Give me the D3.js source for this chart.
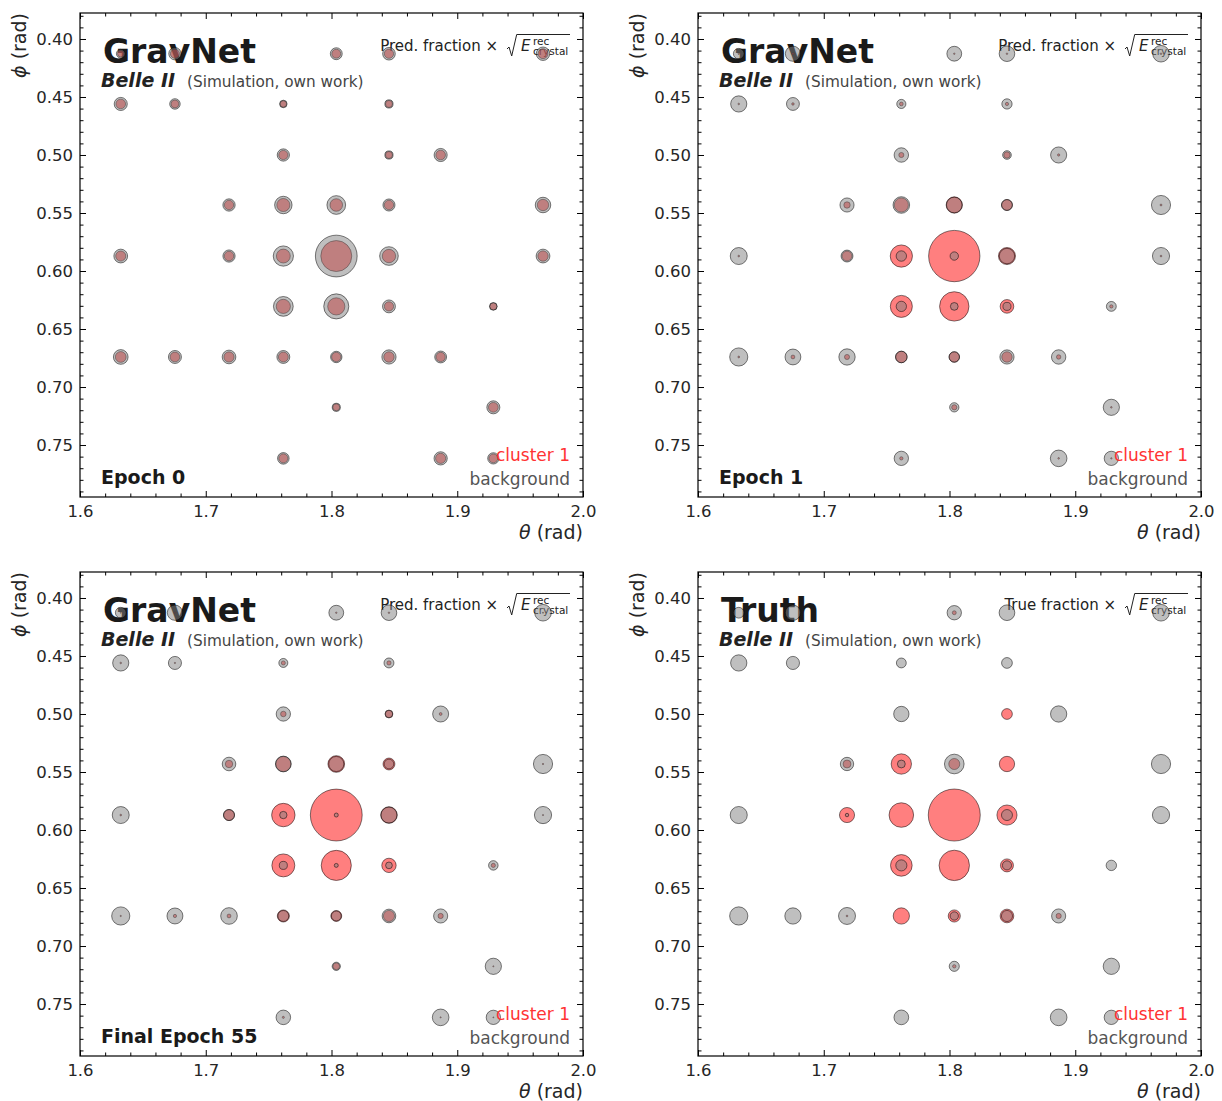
<!DOCTYPE html>
<html>
<head>
<meta charset="utf-8">
<script src="https://cdn.jsdelivr.net/npm/d3@7"></script>
<style>
  body { margin: 0; background: #fff; }
  svg { display: block; font-family: "DejaVu Sans", sans-serif; }
</style>
</head>
<body>
<svg id="fig" width="1222" height="1101"></svg>
<script>
// ECL crystal centres (polar angle theta, azimuth phi, in rad)
const crystalTheta = [
  1.6324, 1.6755, 1.8038, 1.8457, 1.9682,
  1.6324, 1.6755, 1.7617, 1.8457,
  1.7617, 1.8457, 1.8868,
  1.7185, 1.7617, 1.8038, 1.8457, 1.9682,
  1.6324, 1.7185, 1.7617, 1.8038, 1.8457, 1.9682,
  1.7617, 1.8038, 1.8457, 1.9287,
  1.6324, 1.6755, 1.7185, 1.7617, 1.8038, 1.8457, 1.8868,
  1.8038, 1.9287,
  1.7617, 1.8868, 1.9287
];
const crystalPhi = [
  0.4127, 0.4127, 0.4127, 0.4127, 0.4127,
  0.4560, 0.4560, 0.4560, 0.4560,
  0.5000, 0.5000, 0.5000,
  0.5431, 0.5431, 0.5431, 0.5431, 0.5431,
  0.5871, 0.5871, 0.5871, 0.5871, 0.5871, 0.5871,
  0.6305, 0.6305, 0.6305, 0.6305,
  0.6741, 0.6741, 0.6741, 0.6741, 0.6741, 0.6741, 0.6741,
  0.7175, 0.7175,
  0.7615, 0.7615, 0.7615
];
// sqrt of reconstructed crystal energy (sqrt GeV)
const sqrtErec = [
  0.043, 0.087, 0.082, 0.091, 0.103,
  0.098, 0.064, 0.036, 0.043,
  0.087, 0.043, 0.098,
  0.089, 0.176, 0.188, 0.087, 0.137,
  0.108, 0.089, 0.223, 1.000, 0.195, 0.110,
  0.219, 0.342, 0.093, 0.040,
  0.123, 0.098, 0.108, 0.098, 0.080, 0.115, 0.084,
  0.042, 0.098,
  0.080, 0.103, 0.076
];
// fraction assigned to cluster 1 (the rest is background)
const fracEpoch0 = [
  0.35, 0.35, 0.36, 0.35, 0.35,
  0.35, 0.36, 0.42, 0.42,
  0.36, 0.42, 0.35,
  0.37, 0.36, 0.31, 0.38, 0.35,
  0.35, 0.38, 0.32, 0.355, 0.34, 0.36,
  0.34, 0.32, 0.34, 0.45,
  0.35, 0.36, 0.36, 0.37, 0.40, 0.35, 0.38,
  0.42, 0.36,
  0.38, 0.37, 0.38
];
const fracEpoch1 = [
  0.02, 0.02, 0.01, 0.01, 0.01,
  0.01, 0.036, 0.14, 0.09,
  0.11, 0.35, 0.02,
  0.17, 0.42, 0.52, 0.50, 0.01,
  0.01, 0.41, 0.82, 0.974, 0.55, 0.01,
  0.82, 0.935, 0.74, 0.10,
  0.01, 0.055, 0.088, 0.50, 0.50, 0.35, 0.086,
  0.24, 0.01,
  0.05, 0.01, 0.01
];
const fracEpoch55 = [
  0.01, 0.01, 0.01, 0.01, 0.005,
  0.01, 0.01, 0.17, 0.15,
  0.13, 0.50, 0.03,
  0.23, 0.48, 0.55, 0.60, 0.005,
  0.01, 0.50, 0.91, 0.994, 0.52, 0.005,
  0.89, 0.983, 0.82, 0.16,
  0.005, 0.04, 0.05, 0.55, 0.55, 0.40, 0.12,
  0.40, 0.005,
  0.02, 0.005, 0.005
];
const fracTruth = [
  0, 0, 0.07, 0, 0,
  0, 0, 0, 0,
  0, 1, 0,
  0.26, 0.87, 0.24, 1, 0,
  0, 0.95, 1, 1, 0.77, 0,
  0.79, 1, 0.67, 0,
  0, 0, 0.01, 1, 0.68, 0.60, 0.12,
  0.10, 0,
  0, 0, 0
];

const xTicks = [1.6, 1.7, 1.8, 1.9, 2.0];
const yTicks = [0.40, 0.45, 0.50, 0.55, 0.60, 0.65, 0.70, 0.75];

const panelTitles = ["GravNet", "GravNet", "GravNet", "Truth"];
const panelTags = ["Epoch 0", "Epoch 1", "Final Epoch 55", ""];
const panelPrefixes = ["Pred. fraction", "Pred. fraction", "Pred. fraction", "True fraction"];
const panelFractions = [fracEpoch0, fracEpoch1, fracEpoch55, fracTruth];

// layout
const panelOrigins = [[80, 13], [698, 13], [80, 572], [698, 572]];
const W = 503, H = 484;

const svg = d3.select("#fig");
const x = d3.scaleLinear().domain([1.6, 2.0]).range([0, W]);
const y = d3.scaleLinear().domain([0.3776, 0.7948]).range([0, H]);
const r = d3.scaleSqrt().domain([0, 1]).range([0, 26]);

const xMinor = d3.range(1.6, 2.0001, 0.02).filter(v => Math.abs(v * 10 - Math.round(v * 10)) > 1e-6);
const yMinor = d3.range(0.38, 0.7901, 0.01).filter(v => Math.abs(v * 20 - Math.round(v * 20)) > 1e-6);

const crystals = crystalTheta.map((t, i) => ({ theta: t, phi: crystalPhi[i], sqrtE: sqrtErec[i] }));

function styleAxis(g) {
  g.select(".domain").remove();
  g.selectAll(".tick line").attr("stroke", "#000").attr("stroke-width", 1);
  g.selectAll(".tick text").attr("fill", "#262626").attr("font-size", 16.5)
    .attr("font-family", "DejaVu Sans");
}

panelFractions.forEach((frac, p) => {
  const [ox, oy] = panelOrigins[p];
  const g = svg.append("g").attr("transform", `translate(${ox},${oy})`);

  // annotation text sits beneath the markers
  g.append("text").attr("x", 23).attr("y", 50).attr("font-size", 33).attr("font-weight", "bold")
    .attr("fill", "#1a1a1a").text(panelTitles[p]);
  g.append("text").attr("x", 21).attr("y", 74).attr("font-size", 19).attr("font-weight", "bold")
    .attr("font-style", "italic").attr("fill", "#222").text("Belle II");
  g.append("text").attr("x", 107).attr("y", 74).attr("font-size", 15.3)
    .attr("fill", "#444").text("(Simulation, own work)");

  // Pred./True fraction × sqrt(E_crystal^rec)
  const xr = 490, yb = 38;
  const f = g.append("g").attr("fill", "#222");
  f.append("text").attr("x", xr - 72).attr("y", yb).attr("text-anchor", "end")
    .attr("font-size", 15).text(panelPrefixes[p] + " \u00d7");
  f.append("path")
    .attr("d", `M${xr - 63},${yb - 2} L${xr - 61},${yb - 4} L${xr - 58.3},${yb + 5} L${xr - 53.3},${yb - 16.5} H${xr}`)
    .attr("fill", "none").attr("stroke", "#222").attr("stroke-width", 1);
  f.append("text").attr("x", xr - 49).attr("y", yb).attr("font-size", 15)
    .attr("font-style", "italic").text("E");
  f.append("text").attr("x", xr - 37).attr("y", yb - 6).attr("font-size", 10.5).text("rec");
  f.append("text").attr("x", xr - 37).attr("y", yb + 4).attr("font-size", 10.5).text("crystal");

  if (panelTags[p]) {
    g.append("text").attr("x", 21).attr("y", 471).attr("font-size", 19).attr("font-weight", "bold")
      .attr("fill", "#1a1a1a").text(panelTags[p]);
  }

  // cluster 1 share, then background share on top
  const marks = g.append("g");
  marks.selectAll("circle.cl").data(crystals).join("circle").attr("class", "cl")
    .attr("cx", d => x(d.theta)).attr("cy", d => y(d.phi))
    .attr("r", (d, i) => r(frac[i] * d.sqrtE))
    .attr("fill", "red").attr("fill-opacity", 0.5)
    .attr("stroke", "#000").attr("stroke-opacity", 0.5).attr("stroke-width", 1);
  marks.selectAll("circle.bg").data(crystals).join("circle").attr("class", "bg")
    .attr("cx", d => x(d.theta)).attr("cy", d => y(d.phi))
    .attr("r", (d, i) => r((1 - frac[i]) * d.sqrtE))
    .attr("fill", "#808080").attr("fill-opacity", 0.5)
    .attr("stroke", "#000").attr("stroke-opacity", 0.5).attr("stroke-width", 1);

  // legend labels
  g.append("text").attr("x", xr).attr("y", 448).attr("text-anchor", "end").attr("font-size", 17)
    .attr("fill", "#ff3333").text("cluster 1");
  g.append("text").attr("x", xr).attr("y", 472).attr("text-anchor", "end").attr("font-size", 17)
    .attr("fill", "#555").text("background");

  // axes with inward ticks on all four sides
  g.append("g").attr("transform", `translate(0,${H})`)
    .call(d3.axisBottom(x).tickValues(xTicks).tickFormat(d3.format(".1f")).tickSizeInner(-6).tickSizeOuter(0).tickPadding(8.3))
    .call(styleAxis);
  g.append("g").attr("transform", `translate(0,${H})`)
    .call(d3.axisBottom(x).tickValues(xMinor).tickFormat("").tickSizeInner(-3.5).tickSizeOuter(0))
    .call(styleAxis);
  g.append("g")
    .call(d3.axisTop(x).tickValues(xTicks).tickFormat("").tickSizeInner(-6).tickSizeOuter(0))
    .call(styleAxis);
  g.append("g")
    .call(d3.axisTop(x).tickValues(xMinor).tickFormat("").tickSizeInner(-3.5).tickSizeOuter(0))
    .call(styleAxis);
  g.append("g")
    .call(d3.axisLeft(y).tickValues(yTicks).tickFormat(d3.format(".2f")).tickSizeInner(-6).tickSizeOuter(0).tickPadding(7))
    .call(styleAxis);
  g.append("g")
    .call(d3.axisLeft(y).tickValues(yMinor).tickFormat("").tickSizeInner(-3.5).tickSizeOuter(0))
    .call(styleAxis);
  g.append("g").attr("transform", `translate(${W},0)`)
    .call(d3.axisRight(y).tickValues(yTicks).tickFormat("").tickSizeInner(-6).tickSizeOuter(0))
    .call(styleAxis);
  g.append("g").attr("transform", `translate(${W},0)`)
    .call(d3.axisRight(y).tickValues(yMinor).tickFormat("").tickSizeInner(-3.5).tickSizeOuter(0))
    .call(styleAxis);

  // frame
  g.append("rect").attr("x", 0).attr("y", 0).attr("width", W).attr("height", H)
    .attr("fill", "none").attr("stroke", "#000").attr("stroke-width", 1.2);

  // axis titles
  const xl = g.append("text").attr("x", W).attr("y", H + 42).attr("text-anchor", "end")
    .attr("font-size", 19).attr("fill", "#262626");
  xl.append("tspan").attr("font-style", "italic").text("\u03b8");
  xl.append("tspan").text(" (rad)");
  const yl = g.append("text").attr("transform", `translate(-54,0) rotate(-90)`)
    .attr("text-anchor", "end").attr("font-size", 19).attr("fill", "#262626");
  yl.append("tspan").attr("font-style", "italic").text("\u03d5");
  yl.append("tspan").text(" (rad)");
});
</script>
</body>
</html>
